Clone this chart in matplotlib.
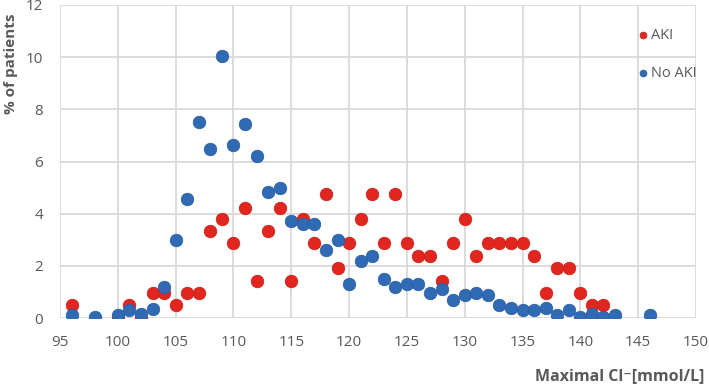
import matplotlib
matplotlib.use("Agg")
import matplotlib.pyplot as plt

plt.rcParams['font.family'] = ['Open Sans', 'DejaVu Sans']

aki_x = [96, 100, 101, 102, 103, 104, 105, 106, 107, 108, 109, 110, 111, 112, 113, 114, 115,
         116, 117, 118, 119, 120, 121, 122, 123, 124, 125, 126, 127, 128, 129, 130, 131, 132,
         133, 134, 135, 136, 137, 138, 139, 140, 141, 142]
aki_y = [0.48, 0.0, 0.48, 0.0, 0.95, 0.95, 0.48, 0.95, 0.95, 3.33, 3.81, 2.86, 4.22, 1.43, 3.33,
         4.22, 1.43, 3.81, 2.86, 4.76, 1.90, 2.86, 3.81, 4.76, 2.86, 4.76, 2.86, 2.38, 2.38, 1.43,
         2.86, 3.81, 2.38, 2.86, 2.86, 2.86, 2.86, 2.38, 0.95, 1.90, 1.90, 0.95, 0.48, 0.48]

noaki_x = [96, 98, 100, 101, 102, 103, 104, 105, 106, 107, 108, 109, 110, 111, 112, 113, 114,
           115, 116, 117, 118, 119, 120, 121, 122, 123, 124, 125, 126, 127, 128, 129, 130, 131,
           132, 133, 134, 135, 136, 137, 138, 139, 140, 141, 142, 143, 146]
noaki_y = [0.12, 0.05, 0.12, 0.30, 0.17, 0.36, 1.18, 3.0, 4.55, 7.5, 6.48, 10.05, 6.63, 7.43,
           6.22, 4.82, 5.0, 3.73, 3.60, 3.60, 2.60, 3.0, 1.30, 2.20, 2.38, 1.50, 1.17, 1.30, 1.30,
           0.96, 1.10, 0.70, 0.90, 0.96, 0.90, 0.50, 0.37, 0.30, 0.30, 0.37, 0.10, 0.30, 0.04,
           0.15, 0.04, 0.10, 0.10]

x_ticks = [95, 100, 105, 110, 115, 120, 125, 130, 135, 140, 145, 150]
y_ticks = [0, 2, 4, 6, 8, 10, 12]

RED = '#E0261F'
BLUE = '#3069B4'
TXT = '#595959'
GRID = '#D9D9D9'

fig = plt.figure(figsize=(7.09, 3.86), dpi=100)
ax = fig.add_axes([60/709, 1-318/386, (696-60)/709, (318-5)/386])

ax.scatter(aki_x, aki_y, s=82, color=RED, edgecolors='#C81E18', linewidths=0.5, zorder=3, label='AKI')
ax.scatter(noaki_x, noaki_y, s=82, color=BLUE, edgecolors='#275C9E', linewidths=0.5, zorder=4, label='No AKI')

ax.set_xlim(95, 150)
ax.set_ylim(0, 12)
ax.set_xticks(x_ticks)
ax.set_yticks(y_ticks)
ax.grid(True, color=GRID, linewidth=1.3, zorder=0)
ax.set_axisbelow(True)
for sp in ax.spines.values():
    sp.set_visible(False)
ax.tick_params(length=0, labelsize=11, colors=TXT)
ax.tick_params(axis='x', pad=12)
ax.tick_params(axis='y', pad=12)

fig.text(11/709, 1-64/386, '% of patients', rotation=90, ha='center', va='center',
         fontsize=11, fontweight='bold', color=TXT)
fig.text(704/709, 1-376/386, 'Maximal Cl\u207b[mmol/L]', ha='right', va='center',
         fontsize=11.5, fontweight='bold', color=TXT)

leg = ax.legend(loc='upper left', bbox_to_anchor=(630/709, 1-22/386), bbox_transform=fig.transFigure,
                frameon=False, markerscale=0.55, handletextpad=0.05, labelspacing=1.6,
                fontsize=10.5, handlelength=1.0, borderaxespad=0)
for t in leg.get_texts():
    t.set_color(TXT)

fig.savefig('out.png', dpi=100)
